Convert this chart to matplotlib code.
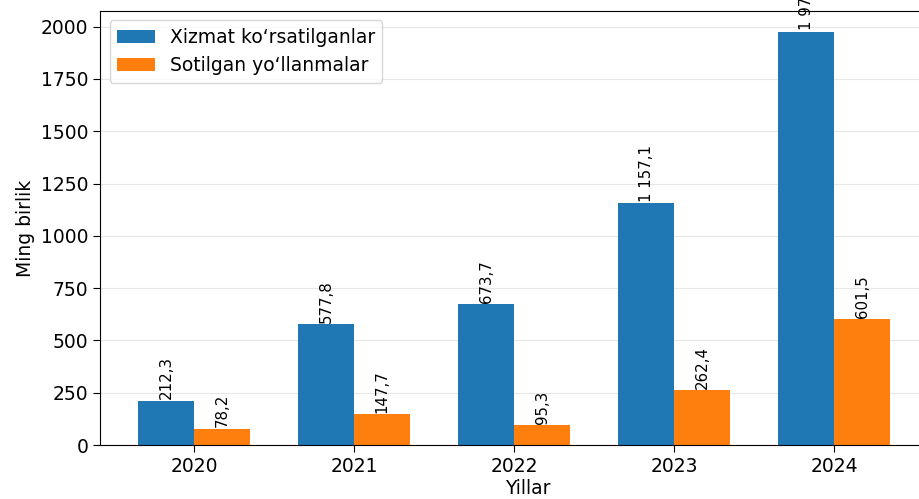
import matplotlib.pyplot as plt
import numpy as np

# Data
years = ["2020", "2021", "2022", "2023", "2024"]
served = [212.3, 577.8, 673.7, 1157.1, 1975.6]
sold = [78.2, 147.7, 95.3, 262.4, 601.5]
labels_served = ["212,3", "577,8", "673,7", "1 157,1", "1 975,6"]
labels_sold = ["78,2", "147,7", "95,3", "262,4", "601,5"]

x = np.arange(len(years))
width = 0.35

fig = plt.figure(figsize=(9.2, 4.99), dpi=100)
# axes runs past the right edge (reference is a crop of a wider chart)
ax = fig.add_axes([0.109, 0.108, 0.93, 0.87])

b1 = ax.bar(x - width / 2, served, width, color="#1f77b4", label="Xizmat ko\u2018rsatilganlar")
b2 = ax.bar(x + width / 2, sold, width, color="#ff7f0e", label="Sotilgan yo\u2018llanmalar")

# Value labels
for rect, txt in zip(b1, labels_served):
    ax.annotate(txt, (rect.get_x() + rect.get_width() / 2, rect.get_height()),
                xytext=(0, 1), textcoords="offset points",
                ha="center", va="bottom", rotation=90, fontsize=10.8)
for rect, txt in zip(b2, labels_sold):
    ax.annotate(txt, (rect.get_x() + rect.get_width() / 2, rect.get_height()),
                xytext=(0, 1), textcoords="offset points",
                ha="center", va="bottom", rotation=90, fontsize=10.8)

ax.set_xticks(x)
ax.set_xticklabels(years, fontsize=13.5)
ax.tick_params(axis="y", labelsize=13.5)
ax.tick_params(length=5)
ax.set_xlim(-0.5875, 4.76)
ax.set_xlabel("Yillar", fontsize=13.5, labelpad=2)
ax.set_ylabel("Ming birlik", fontsize=13.5)
ax.grid(axis="y", alpha=0.3)
ax.set_axisbelow(True)
ax.legend(loc="upper left", fontsize=13.5)

plt.savefig("out.png", dpi=100)
